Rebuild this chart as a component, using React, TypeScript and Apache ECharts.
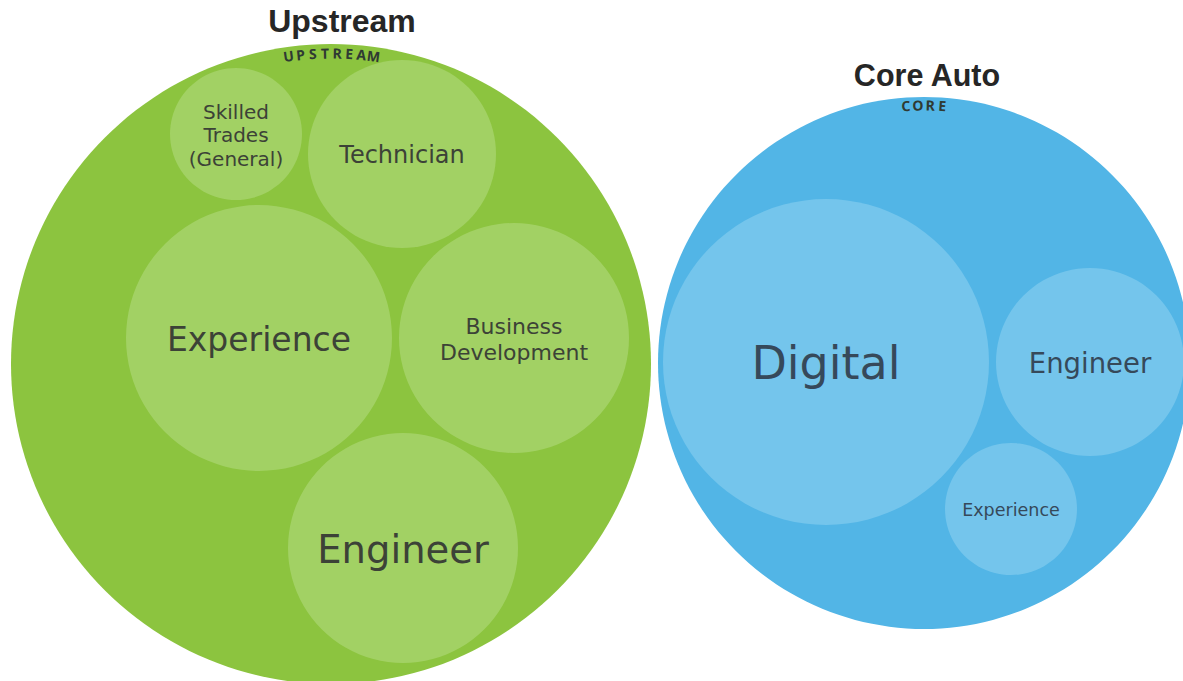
import React, { useEffect, useRef } from "react";
import * as echarts from "echarts";

// Groups (outer circles)
const groupNames = ["Upstream", "Core Auto"];
const groupCodes = ["UPSTREAM", "CORE"];
const groupX = [331, 924];
const groupY = [364, 363];
const groupR = [320, 266];

// Inner bubbles
const bubbleLabels = [
  "Skilled\nTrades\n(General)",
  "Technician",
  "Experience",
  "Business\nDevelopment",
  "Engineer",
  "Digital",
  "Engineer",
  "Experience",
];
const bubbleGroup = [0, 0, 0, 0, 0, 1, 1, 1];
const bubbleX = [236, 402, 259, 514, 403, 826, 1090, 1011];
const bubbleY = [134, 154, 338, 338, 548, 362, 362, 509];
const bubbleR = [66, 94, 133, 115, 115, 163, 94, 66];

const W = 1183;
const H = 681;

const outerColors = ["#8CC43F", "#52B5E6"];
const innerColors = ["#A2D164", "#74C5EC"];
const textColors = ["#3c4237", "#36495a"];
const labelFont = [20, 24, 33, 22, 38.5, 46, 27.5, 17.5];
const labelLine = [23.5, 30, 40, 26, 46, 54, 34, 22];
const titleFont = [32, 30.5];
const titleDx = [11, 3];
const titleDy = [23, 22];
const arcInset = [9, 8];

export default function App() {
  const ref = useRef<HTMLDivElement>(null);
  useEffect(() => {
    const chart = echarts.init(ref.current!, null, { renderer: "svg" });
    const font = "'DejaVu Sans', 'Noto Sans', sans-serif";
    const codeFont = "'Noto Sans', 'Open Sans', sans-serif";

    const outerData = groupNames.map((_, i) => [groupX[i], groupY[i], groupR[i], i]);
    const innerData = bubbleLabels.map((_, i) => [bubbleX[i], bubbleY[i], bubbleR[i], bubbleGroup[i], i]);

    const option: any = {
      animation: false,
      grid: { left: 0, right: 0, top: 0, bottom: 0 },
      xAxis: { type: "value", min: 0, max: W, show: false },
      yAxis: { type: "value", min: 0, max: H, inverse: true, show: false },
      series: [
        {
          type: "custom",
          coordinateSystem: "cartesian2d",
          silent: true,
          data: outerData,
          renderItem: (params: any, api: any) => {
            const c = api.coord([api.value(0), api.value(1)]);
            const r = api.size([api.value(2), api.value(2)])[0];
            const g = api.value(3);
            const code = groupCodes[g];
            const arcR = r - arcInset[g];
            const cw = 12.2;
            const total = code.length * cw;
            const children: any[] = [
              {
                type: "circle",
                shape: { cx: c[0], cy: c[1], r },
                style: { fill: outerColors[g] },
              },
            ];
            for (let k = 0; k < code.length; k++) {
              const s = -total / 2 + cw * (k + 0.5);
              const th = s / arcR;
              children.push({
                type: "text",
                x: c[0] + arcR * Math.sin(th),
                y: c[1] - arcR * Math.cos(th),
                rotation: -th,
                style: {
                  text: code[k],
                  fill: "#2f3a33",
                  font: `bold 14px ${codeFont}`,
                  align: "center",
                  verticalAlign: "middle",
                },
              });
            }
            children.push({
              type: "text",
              x: c[0] + titleDx[g],
              y: c[1] - r - titleDy[g],
              style: {
                text: groupNames[g],
                fill: "#262626",
                font: `bold ${titleFont[g]}px 'Liberation Sans', Arial, sans-serif`,
                align: "center",
                verticalAlign: "middle",
              },
            });
            return { type: "group", children };
          },
        },
        {
          type: "custom",
          coordinateSystem: "cartesian2d",
          silent: true,
          data: innerData,
          renderItem: (params: any, api: any) => {
            const c = api.coord([api.value(0), api.value(1)]);
            const r = api.size([api.value(2), api.value(2)])[0];
            const g = api.value(3);
            const idx = api.value(4);
            return {
              type: "group",
              children: [
                {
                  type: "circle",
                  shape: { cx: c[0], cy: c[1], r },
                  style: { fill: innerColors[g] },
                },
                {
                  type: "text",
                  x: c[0],
                  y: c[1] + 1,
                  style: {
                    text: bubbleLabels[idx],
                    fill: textColors[g],
                    font: `${labelFont[idx]}px ${font}`,
                    lineHeight: labelLine[idx],
                    align: "center",
                    verticalAlign: "middle",
                  },
                },
              ],
            };
          },
        },
      ],
    };
    chart.setOption(option);
    return () => chart.dispose();
  }, []);
  return (
    <div
      ref={ref}
      style={{ position: "fixed", left: 0, top: 0, width: W, height: H, background: "#fff" }}
    />
  );
}
